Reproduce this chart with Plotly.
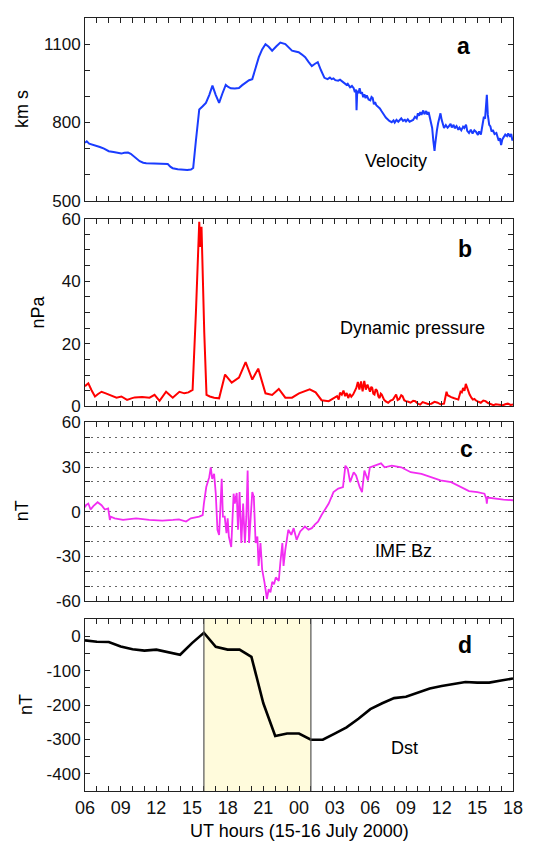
import plotly.graph_objects as go
from plotly.subplots import make_subplots

# ---------------- data (x = hours since 06 UT, 15 July 2000) ----------------
vel_hours = [0.0, 0.15, 0.35, 0.6, 0.9, 1.25, 1.6, 2.0, 2.4, 2.8, 3.06, 3.3, 3.62, 3.85, 4.04, 4.3, 4.6, 4.9,
             5.15, 5.8, 6.5, 6.96, 7.2, 7.38, 7.8, 8.22, 8.6, 8.91, 9.1, 9.33, 9.5, 9.61, 9.9, 10.17, 10.45,
             10.72, 11.0, 11.28, 11.55, 11.84, 12.05, 12.26, 12.6, 12.95, 13.2, 13.51, 13.8, 14.07, 14.35,
             14.62, 14.9, 15.18, 15.45, 15.74, 16.1, 16.43, 16.85, 17.1, 17.41, 17.7, 17.97, 18.25, 18.52,
             18.8, 19.08, 19.35, 19.58, 19.85, 20.14, 20.4, 20.6, 20.75, 20.9, 21.05, 21.3, 21.45, 21.7,
             21.85, 22.0, 22.1, 22.3, 22.45, 22.6, 22.7, 22.8, 22.84, 22.9, 23.0, 23.1, 23.2, 23.3, 23.4,
             23.5, 23.6, 23.7, 23.85, 24.0, 24.1, 24.2, 24.3, 24.4, 24.5, 24.65, 24.8, 24.95, 25.1, 25.2,
             25.3, 25.45, 25.6, 25.8, 25.95, 26.05, 26.2, 26.35, 26.5, 26.6, 26.75, 26.9, 27.0, 27.15, 27.3,
             27.45, 27.6, 27.75, 27.9, 28.0, 28.1, 28.2, 28.3, 28.45, 28.55, 28.7, 28.8, 28.9, 29.0, 29.1,
             29.2, 29.3, 29.4, 29.45, 29.5, 29.6, 29.7, 29.8, 29.9, 30.0, 30.2, 30.35, 30.5, 30.6, 30.75,
             30.85, 31.0, 31.1, 31.25, 31.4, 31.5, 31.65, 31.8, 31.9, 32.05, 32.15, 32.3, 32.45, 32.6,
             32.75, 32.9, 33.05, 33.15, 33.3, 33.45, 33.55, 33.65, 33.75, 33.8, 33.88, 34.0, 34.1, 34.2,
             34.3, 34.45, 34.6, 34.7, 34.8, 34.9, 35.0, 35.1, 35.2, 35.35, 35.5, 35.6, 35.75, 35.85,
             35.95, 36.0]
vel_kms = [722, 728, 719, 716, 712, 706, 700, 690, 687, 684, 681, 684, 685, 680, 673, 662, 652, 646,
           644, 643, 643, 641, 630, 625, 621, 619, 618, 620, 626, 731, 820, 850, 862, 875, 905,
           941, 905, 875, 910, 944, 936, 931, 930, 932, 942, 954, 962, 966, 1010,
           1050, 1080, 1100, 1090, 1075, 1092, 1106, 1100, 1088, 1075, 1072, 1069, 1060, 1050,
           1032, 1016, 1025, 1031, 1000, 971, 966, 972, 966, 969, 962, 960, 964, 956,
           950, 944, 948, 935, 940, 931, 916, 926, 847, 922, 912, 931, 910, 916, 897,
           908, 893, 904, 888, 885, 898, 894, 870, 878, 866, 860, 854, 843, 835, 826,
           819, 812, 806, 801, 808, 800, 810, 803, 814, 816, 806, 810, 804, 812, 803,
           808, 810, 822, 816, 835, 826, 840, 829, 846, 832, 844, 830, 840, 822, 800,
           779, 730, 691, 715, 741, 770, 797, 815, 835, 810, 779, 790, 780, 785, 795,
           781, 791, 778, 786, 772, 780, 770, 784, 779, 792, 768, 760, 772, 758,
           770, 764, 752, 766, 754, 790, 822, 815, 860, 906, 830, 791, 785, 765,
           772, 756, 760, 747, 730, 740, 714, 735, 741, 754, 748, 758, 745, 756,
           731, 742]

pdyn_hours = [0.0, 0.08, 0.28, 0.55, 0.84, 1.1, 1.39, 1.75, 2.09, 2.4, 2.65, 3.06, 3.3, 3.54, 3.9, 4.18,
              4.8, 5.43, 5.85, 6.27, 6.82, 7.38, 7.94, 8.36, 8.7, 9.05, 9.33, 9.61, 9.69, 9.8, 10.03,
              10.22, 10.5, 10.86, 11.28, 11.78, 12.34, 12.95, 13.51, 14.07, 14.57, 15.18, 15.74, 16.3,
              16.85, 17.41, 18.0, 18.9, 19.4, 19.9, 20.5, 21.2, 21.34, 21.45, 21.6, 21.74, 21.88, 22.01,
              22.14, 22.28, 22.4, 22.55, 22.7, 22.82, 22.95, 23.08, 23.22, 23.35, 23.49, 23.62, 23.76,
              23.88, 23.97, 24.08, 24.16, 24.25, 24.35, 24.45, 24.56, 24.68, 24.78, 24.88, 24.96, 25.15,
              25.3, 25.5, 25.7, 25.9, 26.05, 26.17, 26.3, 26.44, 26.6, 26.71, 26.85, 26.98, 27.2, 27.38,
              27.6, 27.78, 28.0, 28.19, 28.4, 28.59, 28.85, 29.13, 29.4, 29.66, 29.9, 30.2, 30.41, 30.5,
              30.6, 30.8, 31.0, 31.2, 31.4, 31.59, 31.7, 31.8, 31.92, 32.03, 32.12, 32.21, 32.35, 32.5,
              32.62, 32.75, 32.89, 33.1, 33.29, 33.5, 33.69, 33.9, 34.09, 34.36, 34.55, 34.76, 34.95,
              35.16, 35.35, 35.57, 35.8, 36.0]
pdyn_npa = [6.5, 6.8, 7.4, 5.2, 3.2, 4.0, 4.7, 4.2, 3.7, 3.2, 2.8, 3.2, 2.7, 2.1, 2.6, 2.9,
            3.0, 2.8, 3.7, 1.8, 4.7, 2.8, 4.7, 4.2, 4.5, 5.3, 30.0, 59.0, 51.0, 57.4, 23.7,
            3.7, 3.2, 2.8, 2.6, 10.2, 7.6, 9.2, 14.2, 8.6, 12.1, 4.2, 3.7, 5.6,
            2.8, 2.8, 4.2, 5.5, 4.5, 2.0, 1.7, 3.3, 2.2, 4.4, 3.8, 5.1, 3.3, 4.3,
            2.7, 4.0, 3.1, 3.8, 5.0, 5.9, 7.8, 5.4, 8.0, 4.8, 8.2, 5.4, 7.0,
            5.2, 4.7, 6.3, 5.9, 4.1, 3.8, 5.5, 5.1, 3.2, 2.7, 4.1, 3.8, 2.2,
            1.6, 1.2, 1.9, 2.2, 3.0, 3.8, 2.1, 2.4, 3.6, 3.3, 2.0, 1.7, 1.5, 1.2,
            1.8, 1.7, 0.9, 0.6, 1.4, 1.2, 0.8, 0.9, 1.5, 1.2, 0.7, 0.9, 4.7, 3.6,
            3.3, 3.0, 2.7, 2.4, 2.2, 4.7, 4.5, 5.9, 5.0, 7.2, 6.0, 5.4, 3.8, 2.8,
            2.2, 2.4, 1.9, 1.5, 1.2, 1.9, 1.7, 1.1, 0.9, 0.4, 0.7, 0.6, 0.4,
            0.4, 0.7, 0.9, 0.5, 0.6]

bz_hours = [0.0, 0.08, 0.28, 0.47, 0.7, 1.06, 1.39, 1.67, 1.95, 2.09, 2.17, 2.5, 3.2, 4.3, 5.4, 6.5, 7.4,
            7.9, 8.5, 8.9, 9.6, 9.9, 10.0, 10.2, 10.45, 10.58, 10.7, 10.86, 11.0, 11.14, 11.28, 11.36,
            11.5, 11.6, 11.75, 11.9, 12.0, 12.1, 12.3, 12.5, 12.6, 12.76, 12.87, 13.0, 13.15, 13.3,
            13.45, 13.57, 13.68, 13.8, 13.9, 14.07, 14.2, 14.35, 14.5, 14.6, 14.76, 14.9, 15.1, 15.3,
            15.45, 15.6, 15.75, 15.9, 16.05, 16.2, 16.3, 16.43, 16.6, 16.7, 16.85, 17.1, 17.35, 17.55,
            17.8, 18.1, 18.5, 18.8, 19.08, 19.35, 19.6, 19.9, 20.5, 20.9, 21.3, 21.7, 21.9, 22.1, 22.3,
            22.6, 22.8, 23.1, 23.3, 23.5, 23.8, 23.96, 24.4, 24.9, 25.2, 25.8, 26.6, 27.4, 28.3, 29.1,
            29.9, 30.8, 31.6, 32.3, 33.0, 33.6, 33.75, 33.8, 33.85, 34.4, 35.2, 36.0]
bz_nt = [3.0, 4.4, 5.5, 1.5, 3.8, 6.4, 4.4, 1.5, 2.2, -5.5, -3.3, -4.4, -5.5, -4.4, -5.5, -6.0, -5.5,
         -5.1, -6.6, -4.4, -3.3, -2.2, 5.5, 16.6, 23.2, 29.8, 22.1, 25.4, 12.1, -12.1, -15.5, -4.4,
         22.1, -3.3, -3.3, -14.3, -4.4, -16.6, -23.6, 12.1, 5.5, 12.6, -12.1, 13.2, -21.0, 5.5,
         -21.0, -3.3, 27.6, -21.0, -7.7, 13.2, 9.9, -21.0, -16.6, -36.4, -21.0, -38.6, -47.5, -58.5,
         -52.0, -54.1, -47.0, -48.6, -44.0, -45.3, -46.4, -34.2, -21.0, -36.4, -25.4, -12.1, -15.5, -11.0,
         -18.8, -13.2, -9.9, -12.0, -11.0, -8.5, -6.6, -2.2, 5.5, 13.2, 15.5, 16.6, 30.9, 28.7, 19.9,
         26.5, 24.3, 16.6, 13.2, 27.6, 21.0, 29.8, 30.9, 32.5, 29.8, 30.9, 29.8, 26.5, 25.4, 23.2,
         21.0, 19.9, 16.6, 13.9, 13.2, 12.1, 8.8, 5.5, 9.5, 8.8, 8.2, 7.7]

dst_hours = list(range(0, 37))
dst_nt = [-12, -16, -17, -30, -38, -42, -39, -47, -54, -20, 10, -31, -39, -39, -60, -195, -290, -283,
          -283, -301, -301, -283, -265, -240, -212, -195, -180, -176, -164, -152, -145, -138, -133,
          -135, -135, -129, -123]

storm_start, storm_end = 10, 19  # shaded interval (16 UT to 01 UT)

hour_labels = ["06", "09", "12", "15", "18", "21", "00", "03", "06", "09", "12", "15", "18"]
vel_ticks = [500, 800, 1100]
pdyn_ticks = [0, 20, 40, 60]
bz_ticks = [-60, -30, 0, 30, 60]
dst_ticks = [-400, -300, -200, -100, 0]

# ---------------- figure ----------------
FONT = "Arial, Liberation Sans, sans-serif"
OFF = 8                       # default page body margin of the html page
W, H = 543 - OFF, 848 - OFF
X0, X1 = 85, 513              # plot area on screen (x)
ML, MT = X0 - OFF, 9 - OFF
MR = W - (X1 - OFF)
MB = H - (791 - OFF)
PW, PH = W - ML - MR, H - MT - MB


def py(y):  # screen pixel (from top) -> paper y
    return (H - MB - (y - OFF)) / PH


def px(x):
    return (x - OFF - ML) / PW


fig = make_subplots(rows=4, cols=1)

fig.add_trace(go.Scatter(x=vel_hours, y=vel_kms, mode="lines",
                         line=dict(color="#1a3cff", width=2)), row=1, col=1)
fig.add_trace(go.Scatter(x=pdyn_hours, y=pdyn_npa, mode="lines",
                         line=dict(color="#ff0000", width=2)), row=2, col=1)
fig.add_trace(go.Scatter(x=bz_hours, y=bz_nt, mode="lines",
                         line=dict(color="#f22cf2", width=1.8)), row=3, col=1)
fig.add_trace(go.Scatter(x=dst_hours, y=dst_nt, mode="lines",
                         line=dict(color="#000000", width=2.6)), row=4, col=1)

domains = [(py(194), py(9)), (py(402), py(212)), (py(599), py(418)), (py(791), py(617))]

x_tickvals = list(range(0, 37))
x_ticktext = []
for h in x_tickvals:
    x_ticktext.append(hour_labels[h // 3] if h % 3 == 0 else "")

for i in range(4):
    k = "" if i == 0 else str(i + 1)
    fig.layout["xaxis" + k].update(
        domain=[0, 1], range=[0, 36], tickmode="array", tickvals=x_tickvals,
        ticktext=x_ticktext, showticklabels=(i == 3), ticks="inside", ticklen=5,
        tickcolor="#222", showline=True, linecolor="#222", linewidth=1, mirror="ticks",
        showgrid=False, zeroline=False,
        tickfont=dict(family=FONT, size=18, color="#111"))
    fig.layout["yaxis" + k].update(domain=list(domains[i]))


def ytick(vals, step, lo, hi):
    tv, tt = [], []
    v = lo
    while v <= hi + 1e-9:
        tv.append(v)
        tt.append(str(int(v)) if any(abs(v - t) < 1e-9 for t in vals) else "")
        v += step
    return tv, tt


ycfg = [
    (ytick(vel_ticks, 100, 500, 1200), [500, 1200]),
    (ytick(pdyn_ticks, 5, 0, 60), [0, 60]),
    (ytick(bz_ticks, 10, -60, 60), [-60, 60]),
    (ytick(dst_ticks, 50, -450, 50), [-450, 50]),
]
for i, ((tv, tt), rng) in enumerate(ycfg):
    k = "" if i == 0 else str(i + 1)
    fig.layout["yaxis" + k].update(
        range=rng, tickmode="array", tickvals=tv, ticktext=tt, ticks="inside", ticklen=5,
        tickcolor="#222", showline=True, linecolor="#222", linewidth=1, mirror="ticks",
        zeroline=False, showgrid=(i == 2), gridcolor="#666", griddash="1.5px,4.5px", gridwidth=1.3,
        tickfont=dict(family=FONT, size=17, color="#111"))

# shaded storm main phase in Dst panel
fig.add_shape(type="rect", xref="x4", yref="y4 domain", x0=storm_start, x1=storm_end, y0=0, y1=1,
              fillcolor="#fffbdc", line=dict(width=0), layer="below")
for xv in (storm_start, storm_end):
    fig.add_shape(type="line", xref="x4", yref="y4 domain", x0=xv, x1=xv, y0=0, y1=1,
                  line=dict(color="#555", width=1.2), layer="above")

ann = []
# panel letters
for letter, (xx, yy) in zip("abcd", [(463, 37), (465, 243), (466, 445), (465, 643)]):
    ann.append(dict(text="<b>" + letter + "</b>", x=px(xx), y=py(yy),
                    font=dict(family=FONT, size=23, color="#000"),
                    xanchor="center", yanchor="middle", showarrow=False, xref="paper", yref="paper"))
# series labels
for txt, (xx, yy) in zip(["Velocity", "Dynamic pressure", "IMF Bz", "Dst"],
                         [(396, 154), (412, 323), (403, 548), (404, 747)]):
    ann.append(dict(text=txt, x=px(xx), y=py(yy), font=dict(family=FONT, size=18, color="#000"),
                    xanchor="center", yanchor="middle", showarrow=False, xref="paper", yref="paper"))
# y-axis titles
for txt, (xx, yy) in zip(["km s", "nPa", "nT", "nT"],
                         [(22, 101), (38, 307), (22, 508), (26, 704)]):
    ann.append(dict(text=txt, x=px(xx), y=py(yy), textangle=-90,
                    font=dict(family=FONT, size=18, color="#000"),
                    xanchor="center", yanchor="middle", showarrow=False, xref="paper", yref="paper"))
# x-axis title
ann.append(dict(text="UT hours (15-16 July 2000)", x=px(299), y=py(831),
                font=dict(family=FONT, size=18, color="#000"),
                xanchor="center", yanchor="middle", showarrow=False, xref="paper", yref="paper"))

fig.update_layout(width=W, height=H, margin=dict(l=ML, r=MR, t=MT, b=MB),
                  paper_bgcolor="white", plot_bgcolor="white", showlegend=False,
                  annotations=ann, font=dict(family=FONT))

fig.write_html("out.html")
